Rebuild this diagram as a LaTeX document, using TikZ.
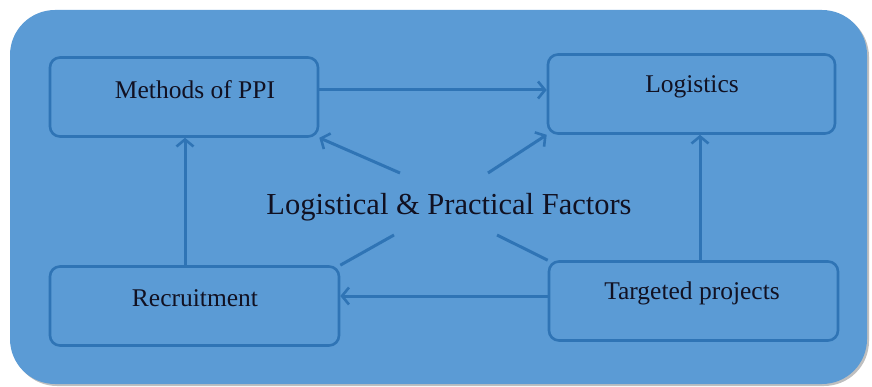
\documentclass[tikz,border=0pt]{standalone}
\usepackage{fontspec}
\setmainfont{Liberation Serif}
\usetikzlibrary{arrows.meta}
\definecolor{panel}{HTML}{5B9BD5}
\definecolor{edge}{HTML}{2F74B5}
\definecolor{ink}{HTML}{111122}
\begin{document}
\begin{tikzpicture}[x=1pt,y=-1pt,
  factorbox/.style={draw=edge, line width=2.6pt, rounded corners=10pt, minimum width=#1, minimum height=79pt, inner sep=0pt},
  boxlabel/.style={font=\fontsize{25.5}{28}\selectfont, text=ink, anchor=center},
  link/.style={draw=edge, line width=3pt},
  flow/.style={link, -{Straight Barb[length=7pt,width=17pt,line width=2.6pt]}}
]
\useasboundingbox (0,0) rectangle (872,387);
% panel with a soft shadow
\fill[black!25, rounded corners=45pt] (12,12) rectangle (869,386);
\fill[panel, rounded corners=45pt] (10,10) rectangle (867,384);
% the four factor boxes
\node[factorbox=268pt] (ppi) at (184,97) {};
\node[factorbox=287pt] (logi) at (691.5,94) {};
\node[factorbox=289pt] (recr) at (194.5,306) {};
\node[factorbox=289pt] (targ) at (693.5,301) {};
\node[boxlabel] (ppiT) at (195,90) {Methods of PPI};
\node[boxlabel] (logiT) at (692,87) {Logistics};
\node[boxlabel] (recrT) at (195,298) {Recruitment};
\node[boxlabel] (targT) at (692,293) {Targeted projects};
% centre label
\node[font=\fontsize{30.5}{34}\selectfont, text=ink] (core) at (449,207) {Logistical \& Practical Factors};
% spokes from the centre
\coordinate (c1) at (400,173);
\coordinate (c2) at (488,173);
\coordinate (c3) at (394,235);
\coordinate (c4) at (497,235);
\draw[flow] (c1) -- (ppi.south east);
\draw[flow] (c2) -- (logi.south west);
\draw[link] (c3) -- (recr.north east);
\draw[link] (c4) -- (targ.north west);
% arrows between the boxes
\draw[flow] (ppi.east |- 0,90) -- (logi.west |- 0,90);
\draw[flow] (recr.north -| 185,0) -- (ppi.south -| 185,0);
\draw[flow] (targ.north -| 700,0) -- (logi.south -| 700,0);
\draw[flow] (targ.west |- 0,296) -- (recr.east |- 0,296);
\end{tikzpicture}
\end{document}
